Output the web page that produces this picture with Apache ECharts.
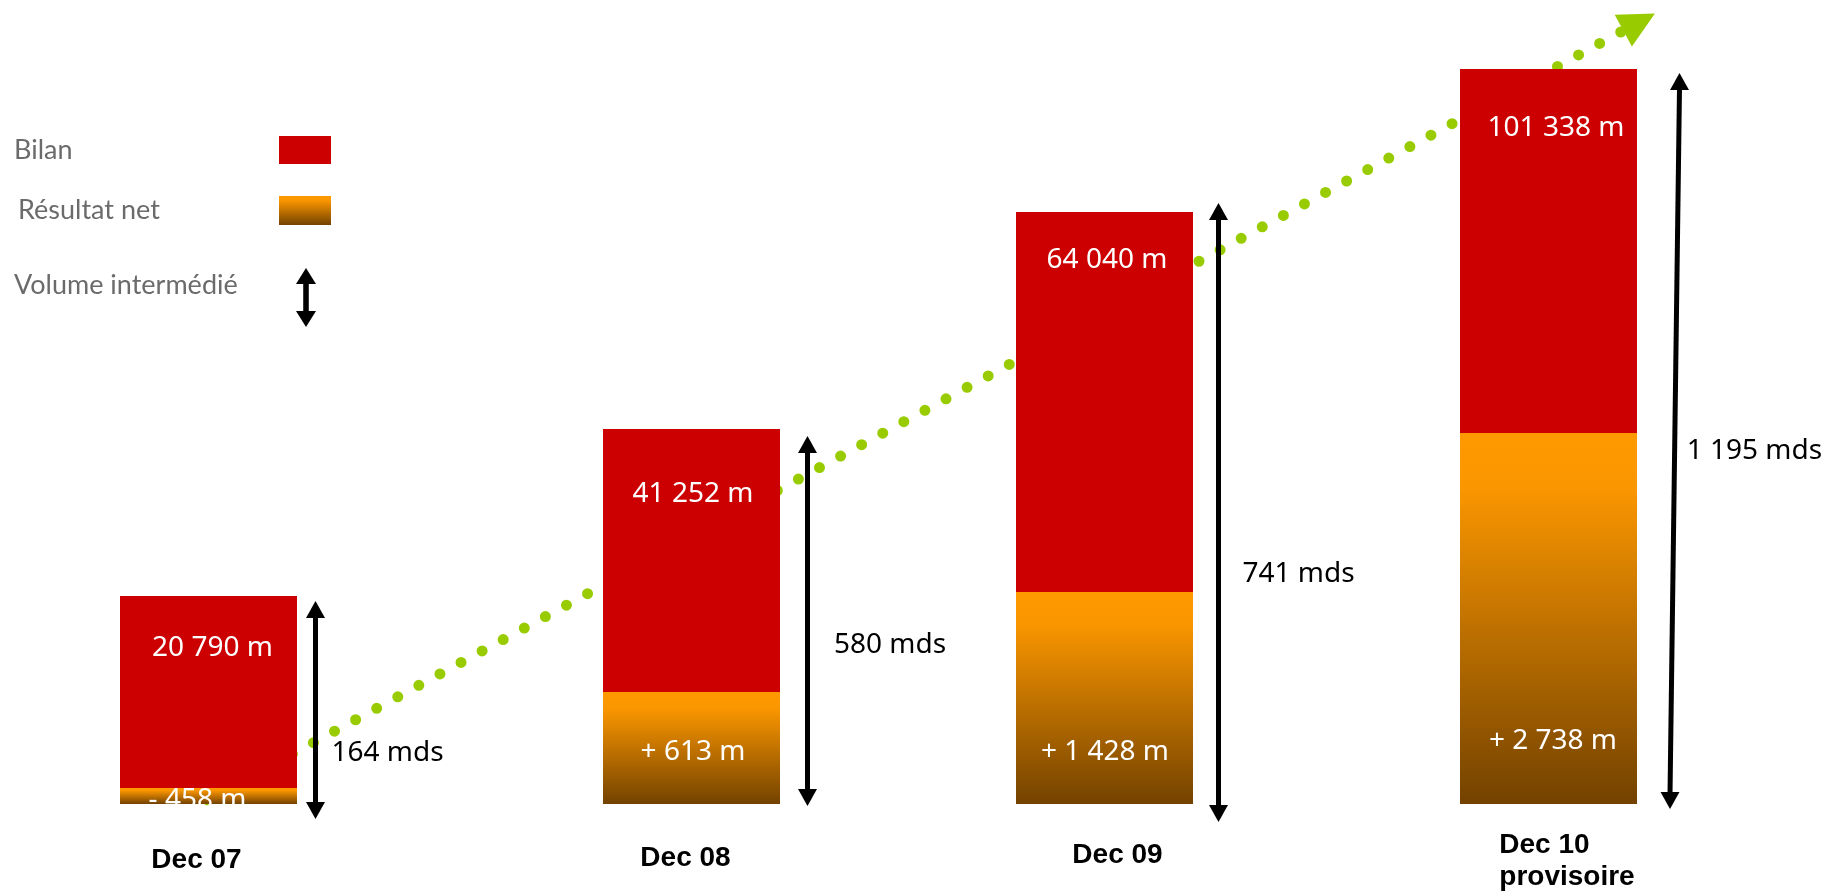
<!DOCTYPE html>
<html>
<head>
<meta charset="utf-8">
<script src="https://cdn.jsdelivr.net/npm/echarts@6/dist/echarts.min.js"></script>
<style>
html, body { margin: 0; padding: 0; background: #ffffff; }
#chart { width: 1828px; height: 896px; }
</style>
</head>
<body>
<div id="chart"></div>
<script>
// ---------------- DATA ----------------
const categories = ['Dec 07', 'Dec 08', 'Dec 09', 'Dec 10\nprovisoire'];
const bilanLabels = ['20 790 m', '41 252 m', '64 040 m', '101 338 m'];
const resultatLabels = ['- 458 m', '+ 613 m', '+ 1 428 m', '+ 2 738 m'];
const volumeLabels = ['164 mds', '580 mds', '741 mds', '1 195 mds'];
const bilanHeights = [192, 263, 380, 364];
const resultatHeights = [16, 112, 212, 371];
const volumeArrowTop = [203, 368, 601, 731];
const volumeArrowBottom = [-15, -2, -18, -5];
// growth trend arrow: [period index, schematic height] for its start and end
const trendArrow = [[0, 4], [3.204, 782]];
const legendNames = ['Bilan', 'Résultat net', 'Volume intermédié'];

// ---------------- LAYOUT / STYLE ----------------
const RED = '#CC0000';
const GREEN = '#99CC00';
const orangeGradient = () => ({
  type: 'linear', x: 0, y: 0, x2: 0, y2: 1,
  colorStops: [
    { offset: 0, color: '#FF9900' },
    { offset: 0.15, color: '#FA9600' },
    { offset: 1, color: '#734200' }
  ]
});
const barLeft = [120, 603, 1016, 1460];
const barW = 177;
const GRID_TOP = 4, GRID_H = 800, Y_MIN = 0, Y_MAX = 800;
const catLabelShift = [-12, -6, 13, 18.5];
const catLabelMargin = [40, 38, 35, 25];
const bilanLabelDist = [38, 51, 34, 45];
const bilanLabelDx = [4, 1.5, 2.5, 7.5];
const resultatLabelDist = [-10, 38, 38, 49];
const resultatLabelDx = [-11, 1.5, 0.5, 4.5];
const arrowDxTop = [107, 116, 114, 131];
const arrowDxBottom = [107, 116, 114, 121.5];
const volLabelDx = [16, 26.5, 24, 12];
const volLabelDy = [43, 24, 61.5, 10];

const valueFont = "'Noto Sans', sans-serif";
const catFont = "'Liberation Sans', Arial, sans-serif";
const legendFont = "Lato, 'Noto Sans', sans-serif";

function shiftPad(dx) {
  return dx < 0 ? [0, -2 * dx, 0, 0] : [0, 0, 0, 2 * dx];
}

function arrowRenderer(i) {
  return function (params, api) {
    const top = api.coord([api.value(0), api.value(2)]);
    const bot = api.coord([api.value(0), api.value(1)]);
    const xt = top[0] + arrowDxTop[i], yt = top[1];
    const xb = bot[0] + arrowDxBottom[i], yb = bot[1];
    const hw = 9.5, hh = 17;
    const xm = (xt + xb) / 2, ym = (yt + yb) / 2;
    return {
      type: 'group',
      children: [
        { type: 'line', shape: { x1: xt, y1: yt + hh - 2, x2: xb, y2: yb - hh + 2 },
          style: { stroke: '#000', lineWidth: 5 } },
        { type: 'polygon', shape: { points: [[xt, yt], [xt + hw, yt + hh], [xt - hw, yt + hh]] },
          style: { fill: '#000' } },
        { type: 'polygon', shape: { points: [[xb, yb], [xb + hw, yb - hh], [xb - hw, yb - hh]] },
          style: { fill: '#000' } },
        { type: 'text', style: {
            text: volumeLabels[i], x: xm + volLabelDx[i], y: ym + volLabelDy[i],
            fill: '#000', fontSize: 28, fontFamily: valueFont,
            align: 'left', verticalAlign: 'middle' } }
      ]
    };
  };
}

const grid = [], xAxis = [], yAxis = [], series = [];
const labelBase = { color: '#ffffff', fontSize: 28, fontFamily: valueFont, lineHeight: 28,
                    textBorderWidth: 0, textShadowBlur: 0 };

categories.forEach((cat, i) => {
  grid.push({ left: barLeft[i], width: barW, top: GRID_TOP, height: GRID_H, outerBoundsMode: 'none', containLabel: false });
  const isLast = i === categories.length - 1;
  const axisLabel = {
    interval: 0, margin: catLabelMargin[i], color: '#000', fontFamily: catFont,
    fontWeight: 'bold', fontSize: 28, lineHeight: 32, padding: shiftPad(catLabelShift[i])
  };
  if (isLast) {
    axisLabel.formatter = v => v.split('\n').map(s => '{a|' + s + '}').join('\n');
    axisLabel.rich = { a: { align: 'left', color: '#000', fontFamily: catFont, fontWeight: 'bold',
                            fontSize: 28, lineHeight: 32 } };
  }
  xAxis.push({ type: 'category', gridIndex: i, data: [cat],
               axisLine: { show: false, onZero: false }, axisTick: { show: false }, splitLine: { show: false },
               axisLabel });
  yAxis.push({ type: 'value', gridIndex: i, min: Y_MIN, max: Y_MAX, show: false, splitLine: { show: false } });

  series.push({
    type: 'bar', name: legendNames[1], xAxisIndex: i, yAxisIndex: i, stack: 'blk' + i,
    barWidth: '100%', z: 2, data: [resultatHeights[i]],
    itemStyle: { color: orangeGradient() },
    label: Object.assign({ show: true, position: 'insideBottom', distance: resultatLabelDist[i],
                           offset: [resultatLabelDx[i], 0], formatter: resultatLabels[i] }, labelBase)
  });
  series.push({
    type: 'bar', name: legendNames[0], xAxisIndex: i, yAxisIndex: i, stack: 'blk' + i,
    barWidth: '100%', z: 2, data: [bilanHeights[i]],
    itemStyle: { color: RED },
    label: Object.assign({ show: true, position: 'insideTop', distance: bilanLabelDist[i],
                           offset: [bilanLabelDx[i], 0], formatter: bilanLabels[i] }, labelBase)
  });
  series.push({
    type: 'custom', name: legendNames[2], xAxisIndex: i, yAxisIndex: i, z: 3, silent: true,
    clip: false,
    itemStyle: { color: '#000' },
    encode: { x: 0, y: [1, 2] },
    data: [[0, volumeArrowBottom[i], volumeArrowTop[i]]],
    renderItem: arrowRenderer(i)
  });
});

// overlay cartesian for the growth trend arrow (period index on x)
grid.push({ left: 208, width: 1340, top: GRID_TOP, height: GRID_H, outerBoundsMode: 'none', containLabel: false });
xAxis.push({ type: 'value', gridIndex: 4, min: 0, max: 3, show: false, splitLine: { show: false } });
yAxis.push({ type: 'value', gridIndex: 4, min: Y_MIN, max: Y_MAX, show: false, splitLine: { show: false } });
series.push({
  type: 'lines', name: 'trend', coordinateSystem: 'cartesian2d', xAxisIndex: 4, yAxisIndex: 4,
  z: 1, silent: true, clip: false,
  symbol: ['none', 'triangle'], symbolSize: [34, 36],
  lineStyle: { color: GREEN, width: 11, type: [0, 24], cap: 'round', opacity: 1, curveness: 0 },
  data: [{ coords: trendArrow }]
});

function legendFor(name, icon, color, left, top, iw, ih, textWidth, tokExtra) {
  return {
    data: [{ name: name, icon: icon, itemStyle: { color: color } }],
    left: left, top: top, padding: 0, orient: 'vertical', align: 'right',
    itemWidth: iw, itemHeight: ih, selectedMode: false, symbolKeepAspect: false,
    formatter: '{t|{name}}',
    textStyle: { rich: { t: Object.assign({ width: textWidth, align: 'left', fontFamily: legendFont,
                                             fontSize: 27, color: '#6b6b6b', lineHeight: 28 }, tokExtra || {}) } }
  };
}

const arrowIcon = 'path://M10,0L19,16L12.5,16L12.5,43L19,43L10,59L1,43L7.5,43L7.5,16L1,16Z';

const option = {
  animation: false,
  backgroundColor: '#ffffff',
  legend: [
    legendFor(legendNames[0], 'rect', RED, 14, 136, 52, 28, 260),
    legendFor(legendNames[1], 'rect', orangeGradient(), 18, 196, 52, 29, 256),
    legendFor(legendNames[2], arrowIcon, '#000', 14, 268, 20, 59, 277,
              { lineHeight: 34, padding: [0, 0, 25, 0] })
  ],
  tooltip: { show: false },
  grid, xAxis, yAxis, series
};

const chart = echarts.init(document.getElementById('chart'), null, { renderer: 'canvas' });
chart.setOption(option);
</script>
</body>
</html>
